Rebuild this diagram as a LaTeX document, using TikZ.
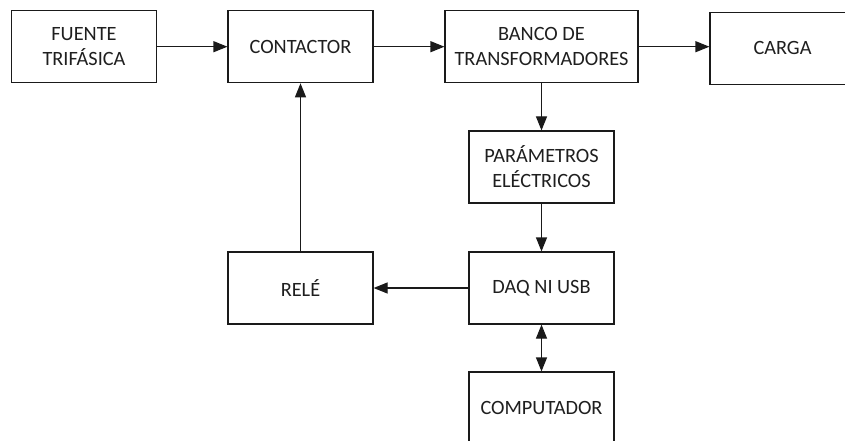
\documentclass[tikz,border=0pt]{standalone}
\usepackage{fontspec}
\setmainfont{Carlito}
\usetikzlibrary{arrows.meta}
\definecolor{inkgray}{HTML}{1F1F1F}
\definecolor{linegray}{HTML}{1A1A1A}
\begin{document}
\begin{tikzpicture}[x=1pt,y=-1pt,
  block/.style={draw=linegray, line width=1.2pt, fill=white, text=inkgray,
    minimum width=145pt, minimum height=72pt, inner sep=0pt, align=center,
    font=\fontsize{20.3}{25}\selectfont},
  flow/.style={draw=linegray, line width=1.2pt, -{Triangle[length=14pt,width=11pt]}},
  both/.style={draw=linegray, line width=1.2pt,
    {Triangle[length=14pt,width=11pt]}-{Triangle[length=14pt,width=11pt]}}]
\useasboundingbox (0,0) rectangle (845,441);
\clip (0,0) rectangle (845,441);

% top row
\node[block] (fuente) at (84,46.7) {FUENTE\\TRIFÁSICA};
\node[block] (contactor) at (300.5,46.7) {CONTACTOR};
\node[block, minimum width=193pt] (banco) at (541.5,46.7) {BANCO DE\\TRANSFORMADORES};
\node[block] (carga) at (782.5,48.3) {CARGA};

% measurement and control chain
\node[block] (param) at (541.5,167) {PARÁMETROS\\ELÉCTRICOS};
\node[block] (daq) at (541.5,288) {DAQ NI USB};
\node[block] (rele) at (300.5,288) {RELÉ};
\node[block] (comp) at (541.5,408) {COMPUTADOR};

% connectors
\draw[flow] (fuente.east) -- (contactor.west);
\draw[flow] (contactor.east) -- (banco.west);
\draw[flow] (banco.east) -- (banco.east -| carga.west);
\draw[flow] (banco.south) -- (param.north);
\draw[flow] (param.south) -- (daq.north);
\draw[flow] (daq.west) -- (rele.east);
\draw[flow] (rele.north) -- (contactor.south);
\draw[both] (daq.south) -- (comp.north);
\end{tikzpicture}
\end{document}
